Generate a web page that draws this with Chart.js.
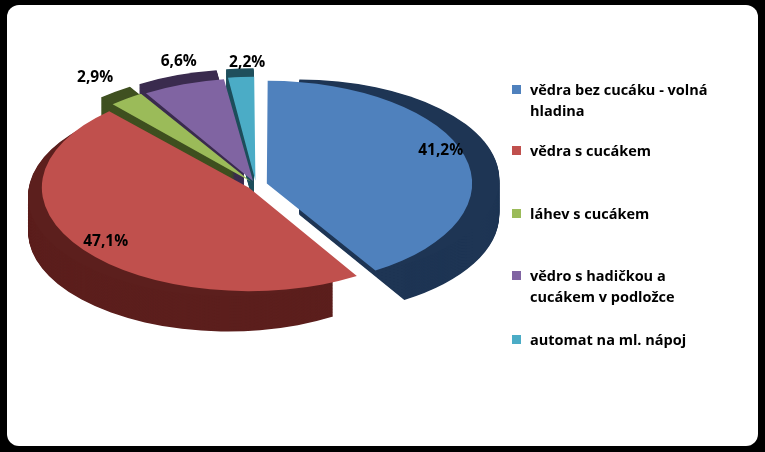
<!DOCTYPE html>
<html><head><meta charset="utf-8">
<script src="https://cdn.jsdelivr.net/npm/chart.js@4/dist/chart.umd.min.js"></script>
<style>
body{margin:0;background:#000;width:765px;height:452px;overflow:hidden;font-family:"Open Sans",Arial,sans-serif}
#box{position:absolute;left:7px;top:5px;width:751px;height:441px;background:#fff;border-radius:12px}
#c{position:absolute;left:0;top:0}
#leg{position:absolute;left:0;top:0;font-weight:bold;font-size:14.5px;color:#000;line-height:21px}
.it{position:absolute;left:512px;padding-left:18px;width:230px;white-space:nowrap}
.sw{position:absolute;left:0;top:6px;width:9px;height:9px}
</style></head><body>
<div id="box"></div>
<canvas id="c" width="765" height="452"></canvas>
<div id="leg"></div>
<script>
const categories=["vědra bez cucáku - volná hladina","vědra s cucákem","láhev s cucákem","vědro s hadičkou a cucákem v podložce","automat na ml. nápoj"];
const values=[41.2,47.1,2.9,6.6,2.2];
const labels=["41,2%","47,1%","2,9%","6,6%","2,2%"];
const colors=["#4f81bd","#c0504d","#9bbb59","#8064a2","#4bacc6"];
const sideColors=["#1e3554","#5c1f1d","#3f5020","#3a2b4e","#1f4f5c"];
const SY=0.5, DEPTH=36, R=200;
const labelPos=[[0.96,1.27],[0.94,0.95],[1.34,1.34],[1.14,1.31],[0.64,1.23]];
const legLines=[["vědra bez cucáku - volná","hladina"],["vědra s cucákem"],["láhev s cucákem"],["vědro s hadičkou a","cucákem v podložce"],["automat na ml. nápoj"]];
const legTops=[79,140,203,265,329];
const leg=document.getElementById('leg');
legLines.forEach((l,i)=>{leg.innerHTML+=`<div class="it" style="top:${legTops[i]}px"><span class="sw" style="background:${colors[i]}"></span>${l.join('<br>')}</div>`;});
function path(ctx,a){const o=a.options.offset||0;const m=(a.startAngle+a.endAngle)/2;const dx=Math.cos(m)*o,dy=Math.sin(m)*o;
ctx.beginPath();ctx.moveTo(a.x+dx,a.y+dy);ctx.arc(a.x+dx,a.y+dy,a.outerRadius,a.startAngle,a.endAngle);ctx.closePath();}
const p3d={id:'p3d',
beforeDatasetsDraw(ch){const ctx=ch.ctx,m=ch.getDatasetMeta(0),a0=m.data[0];
ctx.save();ctx.translate(a0.x,a0.y);ctx.scale(1,SY);ctx.translate(-a0.x,-a0.y);
for(let d=DEPTH/SY;d>0;d-=1.5){m.data.forEach((a,i)=>{ctx.save();ctx.translate(0,d);path(ctx,a);ctx.fillStyle=sideColors[i];ctx.fill();ctx.restore();});}},
afterDatasetsDraw(ch){const ctx=ch.ctx;ctx.restore();const m=ch.getDatasetMeta(0);
ctx.save();ctx.font='bold 15.5px "Open Sans",Arial';ctx.textAlign='center';ctx.textBaseline='middle';ctx.fillStyle='#000';
m.data.forEach((a,i)=>{const mid=(a.startAngle+a.endAngle)/2;const [fx,fy]=labelPos[i];
ctx.fillText(labels[i],a.x+Math.cos(mid)*R*fx,a.y+Math.sin(mid)*R*fy*SY);});ctx.restore();}};
new Chart(document.getElementById('c'),{type:'pie',
data:{labels:categories,datasets:[{data:values,backgroundColor:colors,borderWidth:0,offset:[45,35,35,35,35],radius:R}]},
options:{responsive:false,animation:false,layout:{padding:{left:0,right:253,top:0,bottom:82}},
plugins:{legend:{display:false},tooltip:{enabled:false}}},plugins:[p3d]});
</script></body></html>
